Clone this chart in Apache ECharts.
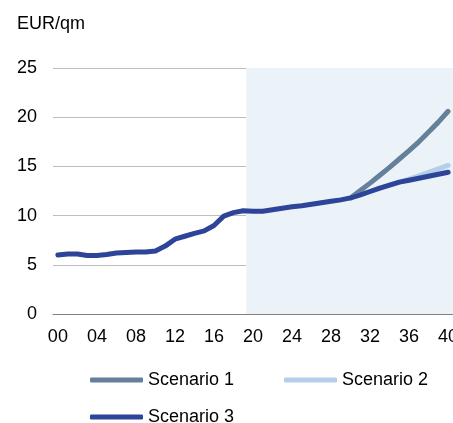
<!DOCTYPE html>
<html>
<head>
<meta charset="utf-8">
<script src="https://cdn.jsdelivr.net/npm/echarts@6/dist/echarts.min.js"></script>
<style>
  html, body { margin: 0; padding: 0; background: #fff; }
  #chart { width: 453px; height: 423px; }
</style>
</head>
<body>
<div id="chart"></div>
<script>
// years 2000 - 2040, shown as two digits
const years = [];
for (let y = 0; y <= 40; y++) years.push(String(y).padStart(2, '0'));

// Scenario 3: history + base projection
const scenario3 = [
  6.0, 6.1, 6.1, 5.95, 5.95, 6.05, 6.2, 6.25, 6.3, 6.3,
  6.4, 6.9, 7.6, 7.9, 8.2, 8.45, 9.0, 9.95, 10.3, 10.5,
  10.45, 10.45, 10.6, 10.75, 10.9, 11.0, 11.15, 11.3, 11.45, 11.6,
  11.8, 12.1, 12.45, 12.8, 13.1, 13.4, 13.6, 13.8, 14.0, 14.2, 14.4
];
// Scenario 1 and 2 only differ from 2030 on
const scenario1From2030 = [11.8, 12.55, 13.3, 14.1, 14.9, 15.75, 16.6, 17.5, 18.5, 19.5, 20.6];
const scenario2From2030 = [11.8, 12.1, 12.45, 12.8, 13.1, 13.4, 13.7, 14.05, 14.4, 14.75, 15.1];

const pad = new Array(30).fill(null);
const scenario1 = pad.concat(scenario1From2030);
const scenario2 = pad.concat(scenario2From2030);

// projection period (shaded)
const shadeFrom = 19.3;
const shadeTo = 40.5;

const colors = { s1: '#65809a', s2: '#b3cfea', s3: '#2d4498' };
const font = 'Arial, "Liberation Sans", sans-serif';

const chart = echarts.init(document.getElementById('chart'));

const option = {
  animation: false,
  title: {
    text: 'EUR/qm',
    left: 12,
    top: 10,
    textStyle: { fontSize: 18, fontWeight: 'normal', color: '#000', fontFamily: font }
  },
  grid: { left: 53, right: 0, top: 68, bottom: 109, outerBoundsMode: 'none', containLabel: false },
  legend: [
    {
      data: ['Scenario 1', 'Scenario 2'],
      left: 85,
      top: 366,
      icon: 'roundRect',
      itemWidth: 53,
      itemHeight: 5,
      itemGap: 50,
      textStyle: { fontSize: 18, color: '#000', fontFamily: font }
    },
    {
      data: ['Scenario 3'],
      left: 85,
      top: 403,
      icon: 'roundRect',
      itemWidth: 53,
      itemHeight: 5,
      textStyle: { fontSize: 18, color: '#000', fontFamily: font }
    }
  ],
  xAxis: [
    {
      type: 'category',
      data: years,
      boundaryGap: true,
      axisTick: { show: false },
      axisLine: { lineStyle: { color: '#808080', width: 1 } },
      axisLabel: { interval: 3, margin: 14, fontSize: 18, color: '#000', fontFamily: font }
    },
    {
      type: 'value',
      min: -0.5,
      max: 40.5,
      show: false
    }
  ],
  yAxis: {
    type: 'value',
    min: 0,
    max: 25,
    interval: 5,
    axisLine: { show: false },
    axisTick: { show: false },
    axisLabel: { margin: 16, fontSize: 18, color: '#000', fontFamily: font },
    splitLine: { lineStyle: { color: '#bdbdbd', width: 1 } }
  },
  series: [
    {
      name: 'shade',
      type: 'line',
      xAxisIndex: 1,
      data: [],
      z: -1,
      silent: true,
      markArea: {
        silent: true,
        itemStyle: { color: '#ecf3f8' },
        data: [[{ xAxis: shadeFrom, yAxis: 0 }, { xAxis: shadeTo, yAxis: 25 }]]
      }
    },
    {
      name: 'Scenario 1',
      type: 'line',
      data: scenario1,
      symbol: 'none',
      color: colors.s1,
      lineStyle: { width: 5, color: colors.s1, cap: 'round' }
    },
    {
      name: 'Scenario 2',
      type: 'line',
      data: scenario2,
      symbol: 'none',
      color: colors.s2,
      lineStyle: { width: 5, color: colors.s2, cap: 'round' }
    },
    {
      name: 'Scenario 3',
      type: 'line',
      data: scenario3,
      symbol: 'none',
      color: colors.s3,
      lineStyle: { width: 5, color: colors.s3, cap: 'round', join: 'round' }
    }
  ]
};

chart.setOption(option);
</script>
</body>
</html>
